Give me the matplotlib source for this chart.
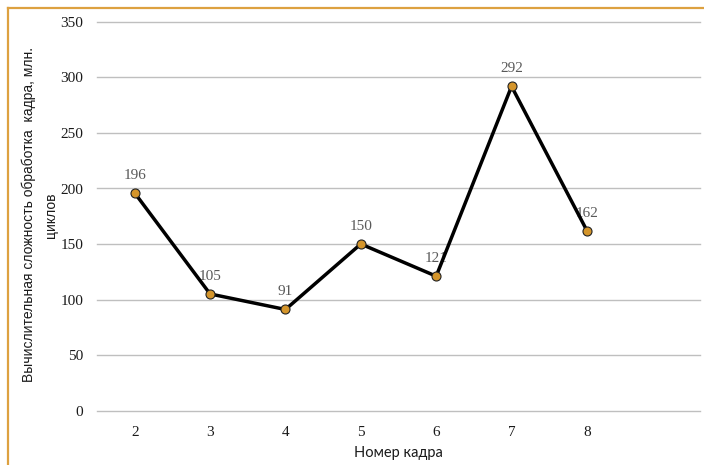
import matplotlib.pyplot as plt
from matplotlib.lines import Line2D

# номера кадров и сложность обработки (млн. циклов)
frames = [2, 3, 4, 5, 6, 7, 8]
cycles = [196, 105, 91, 150, 121, 292, 162]
y_ticks = [0, 50, 100, 150, 200, 250, 300, 350]

fig = plt.figure(figsize=(7.04, 4.65), dpi=100)
W, H = 704, 465
ax = fig.add_axes([97 / W, 1 - 410.5 / H, (700 - 97) / W, (410.5 - 22) / H])

ax.plot(frames, cycles, color='black', linewidth=2.5, marker='o',
        markersize=6.5, markerfacecolor='#D4952B', markeredgecolor='#222222',
        markeredgewidth=0.8, zorder=3)

for x, y in zip(frames, cycles):
    ax.annotate(str(y), (x, y), xytext=(0, 8), textcoords='offset points',
                ha='center', va='bottom', fontsize=11,
                family='Liberation Serif', color='#595959', zorder=2)

ax.set_xlim(1.5, 9.5)
ax.set_ylim(0, 350)
ax.set_yticks(y_ticks)
ax.set_xticks(frames)
ax.grid(axis='y', color='#BFBFBF', linewidth=1)
for g in ax.get_ygridlines():
    g.set_clip_on(False)
ax.set_axisbelow(True)
for s in ax.spines.values():
    s.set_visible(False)
ax.tick_params(length=0, labelsize=11, colors='#1a1a1a', pad=0)
ax.tick_params(axis='y', pad=10)
ax.tick_params(axis='x', pad=11)
for lab in ax.get_xticklabels() + ax.get_yticklabels():
    lab.set_family('Liberation Serif')

fig.text(398 / W, 1 - 453 / H, 'Номер кадра', ha='center', va='center',
         fontsize=10.5, family='Lato', color='#1a1a1a')
fig.text(39.5 / W, 1 - 215 / H,
         'Вычислительная сложность обработка  кадра, млн.\nциклов',
         rotation=90, ha='center', va='center', multialignment='center',
         fontsize=10, family='Liberation Sans', color='#1a1a1a',
         linespacing=1.7)

# рамка области диаграммы
border = '#DDA140'
fig.add_artist(Line2D([8 / W, 1], [1 - 8 / H, 1 - 8 / H], color=border,
                      linewidth=1.6, transform=fig.transFigure))
fig.add_artist(Line2D([8 / W, 8 / W], [0, 1 - 8 / H], color=border,
                      linewidth=1.6, transform=fig.transFigure))

fig.savefig('out.png', dpi=100)
